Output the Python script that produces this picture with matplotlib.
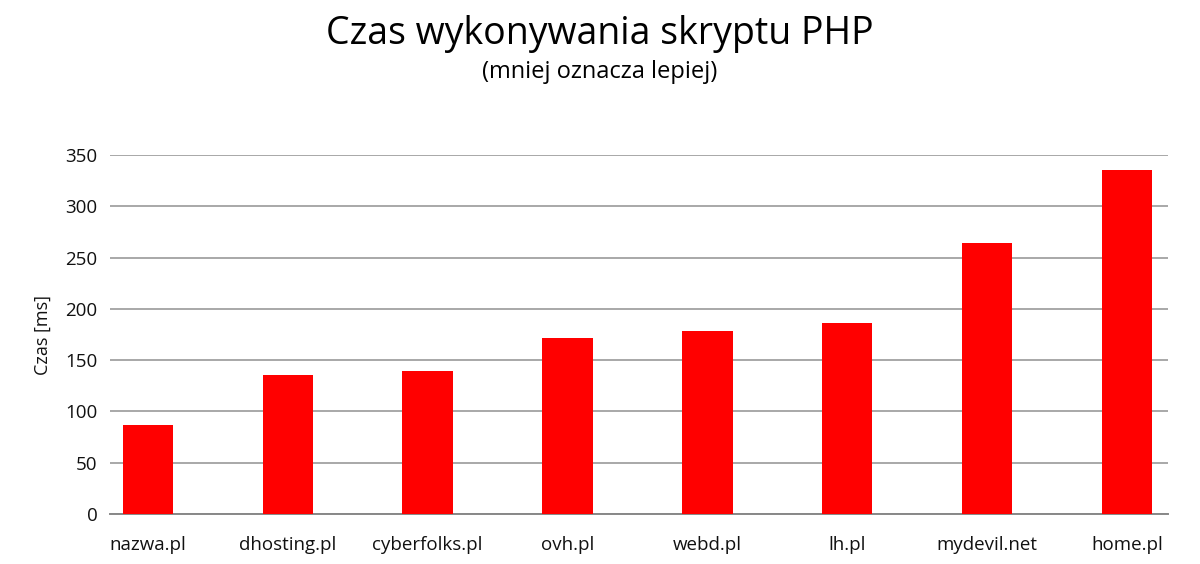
import matplotlib
matplotlib.use("Agg")
import matplotlib.pyplot as plt
import numpy as np

# --- Dane ---
hosts = ["nazwa.pl", "dhosting.pl", "cyberfolks.pl", "ovh.pl",
         "webd.pl", "lh.pl", "mydevil.net", "home.pl"]
czas_ms = [87, 136, 139, 172, 178, 186, 264, 335]
y_ticks = [0, 50, 100, 150, 200, 250, 300, 350]

plt.rcParams['font.family'] = ['Open Sans', 'DejaVu Sans']

fig = plt.figure(figsize=(12, 5.64), dpi=100)
ax = fig.add_axes([0.0917, 0.0887, 0.8813, 0.6363])

x = np.arange(len(hosts))
ax.bar(x, czas_ms, width=0.36, color="#ff0000", zorder=3)

ax.set_ylim(0, 350)
ax.set_xlim(-0.27, len(hosts) - 1 + 0.29)
ax.set_yticks(y_ticks)
ax.set_xticks(x)
ax.set_xticklabels(hosts, fontsize=13.5, color="#111111")
ax.tick_params(axis="y", labelsize=13.5, colors="#111111", length=0, pad=9)
ax.tick_params(axis="x", length=0, pad=16)

# siatka
ax.yaxis.grid(True, color="#a8a8a8", linewidth=1.4, zorder=0)
for s in ["top", "right", "left"]:
    ax.spines[s].set_visible(False)
ax.spines["bottom"].set_color("#888888")
ax.spines["bottom"].set_linewidth(1.4)

ax.set_ylabel("Czas [ms]", fontsize=13, color="#111111", labelpad=10)

fig.text(0.5, 0.94, "Czas wykonywania skryptu PHP", ha="center", va="center",
         fontsize=27, color="#000000")
fig.text(0.5, 0.873, "(mniej oznacza lepiej)", ha="center", va="center",
         fontsize=17, color="#000000")

fig.savefig("out.png", dpi=100)
